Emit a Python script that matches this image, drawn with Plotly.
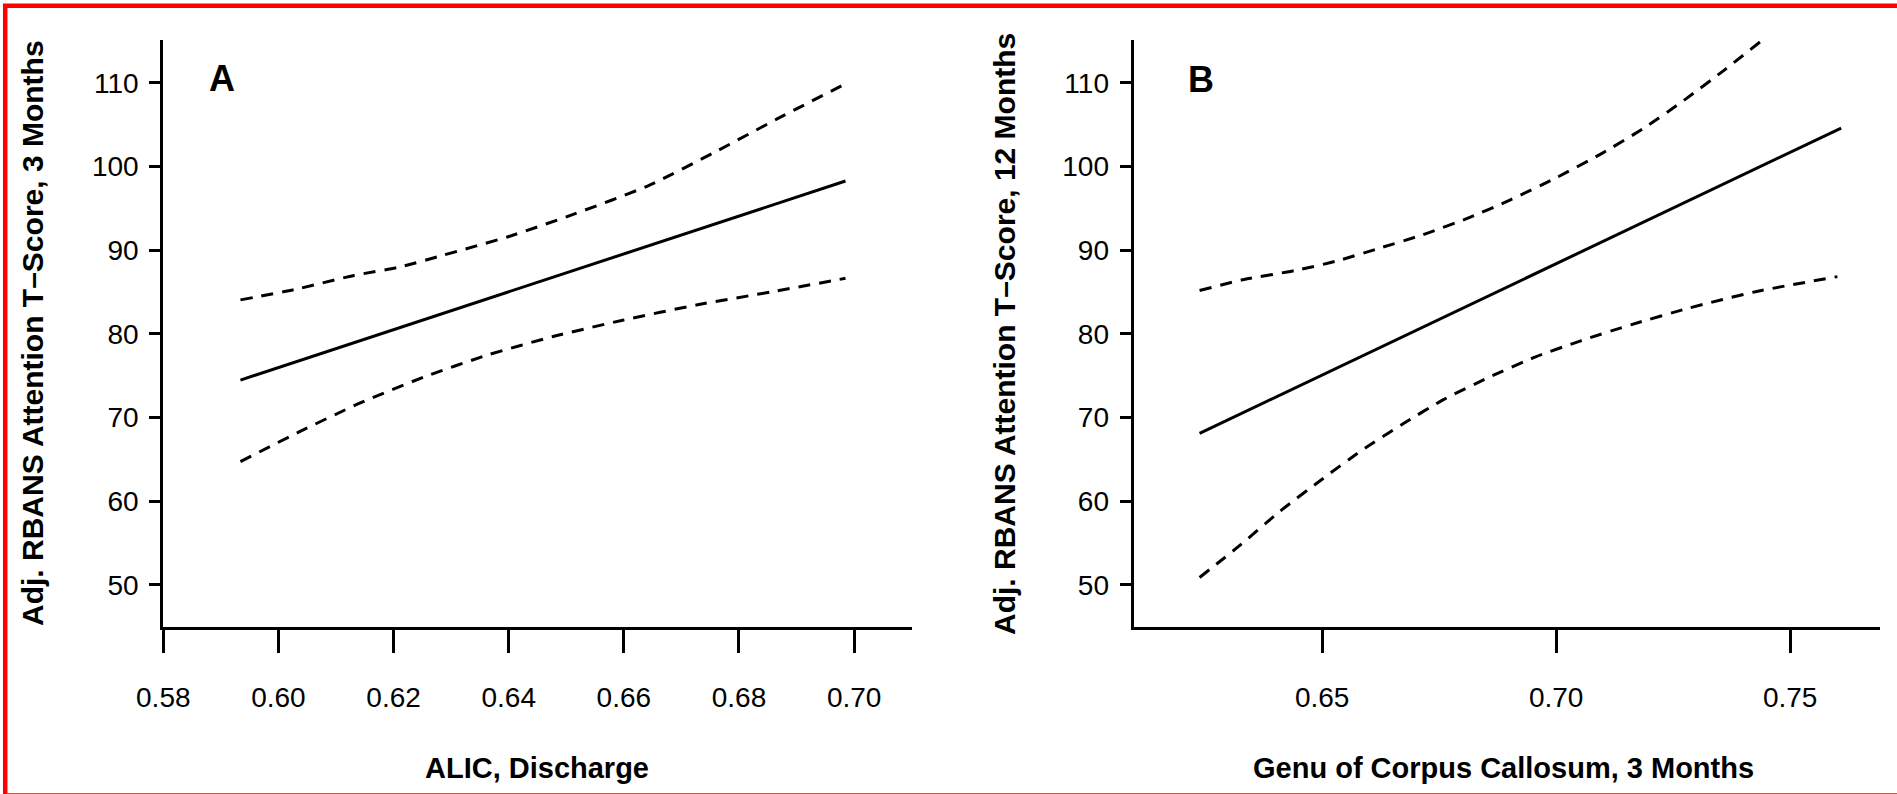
import plotly.graph_objects as go

# ---------------- data ----------------
# Panel A: ALIC, Discharge vs Adj. RBANS Attention T-Score, 3 Months
a_fit_x = [0.5934, 0.6985]
a_fit_y = [74.48, 98.27]
a_upper_x = [0.5934, 0.6027, 0.6131, 0.6209, 0.6287, 0.6399, 0.6512, 0.6642, 0.6754, 0.6867, 0.6984]
a_upper_y = [84.06, 85.28, 86.98, 87.96, 89.42, 91.61, 94.28, 97.69, 101.58, 105.72, 109.85]
a_lower_x = [0.5934, 0.6035, 0.6139, 0.6252, 0.6364, 0.6477, 0.6598, 0.6728, 0.6858, 0.6985]
a_lower_y = [64.74, 68.25, 71.65, 74.82, 77.49, 79.68, 81.63, 83.48, 85.04, 86.64]

# Panel B: Genu of Corpus Callosum, 3 Months vs Adj. RBANS Attention T-Score, 12 Months
b_fit_x = [0.6238, 0.7609]
b_fit_y = [68.10, 104.60]
b_upper_x = [0.6238, 0.6333, 0.6442, 0.6530, 0.6617, 0.6715, 0.6814, 0.6901, 0.7000, 0.7098, 0.7185, 0.7273, 0.7360, 0.7437]
b_upper_y = [85.18, 86.50, 87.57, 88.69, 90.15, 91.85, 93.89, 95.99, 98.66, 101.58, 104.50, 107.91, 111.56, 114.96]
b_lower_x = [0.6238, 0.6322, 0.6409, 0.6497, 0.6584, 0.6672, 0.6759, 0.6857, 0.6956, 0.7054, 0.7163, 0.7284, 0.7426, 0.7601]
b_lower_y = [50.88, 54.62, 58.76, 62.51, 66.06, 69.22, 72.14, 74.82, 77.25, 79.20, 81.14, 83.09, 85.04, 86.84]

y_ticks = [50, 60, 70, 80, 90, 100, 110]
a_x_ticks = [0.58, 0.60, 0.62, 0.64, 0.66, 0.68, 0.70]
b_x_ticks = [0.65, 0.70, 0.75]

a_xlabel = "ALIC, Discharge"
b_xlabel = "Genu of Corpus Callosum, 3 Months"
a_ylabel = "Adj. RBANS Attention T–Score, 3 Months"
b_ylabel = "Adj. RBANS Attention T–Score, 12 Months"
panel_labels = ["A", "B"]

# ---------------- layout helpers ----------------
W, H = 1897, 794
def px(x):
    return x / W
def py(y):
    return 1 - y / H

FONT = "Liberation Sans, Arial, Helvetica, sans-serif"
BLACK = "#000000"
LW = 3

fig = go.Figure()

def add_panel(fig, xs, ys, xaxis, yaxis):
    fx, fy, ux, uy, lx, ly = xs[0], ys[0], xs[1], ys[1], xs[2], ys[2]
    fig.add_trace(go.Scatter(x=fx, y=fy, mode="lines", xaxis=xaxis, yaxis=yaxis,
                             line=dict(color=BLACK, width=LW), showlegend=False, hoverinfo="skip"))
    for X, Y in ((ux, uy), (lx, ly)):
        fig.add_trace(go.Scatter(x=X, y=Y, mode="lines", xaxis=xaxis, yaxis=yaxis,
                                 line=dict(color=BLACK, width=LW, dash="12px,9px", shape="spline", smoothing=0.6),
                                 showlegend=False, hoverinfo="skip"))

add_panel(fig, [a_fit_x, a_upper_x, a_lower_x], [a_fit_y, a_upper_y, a_lower_y], "x", "y")
add_panel(fig, [b_fit_x, b_upper_x, b_lower_x], [b_fit_y, b_upper_y, b_lower_y], "x2", "y2")

y_dom = [py(626.7), py(40.2)]

common_x = dict(showline=True, linecolor=BLACK, linewidth=LW, ticks="outside", ticklen=23,
                tickwidth=LW, tickcolor=BLACK, showgrid=False, zeroline=False,
                tickfont=dict(family=FONT, size=28, color=BLACK), tickformat=".2f",
                ticklabelstandoff=21, automargin=False, fixedrange=True)
common_y = dict(showline=True, linecolor=BLACK, linewidth=LW, ticks="outside", ticklen=11,
                tickwidth=LW, tickcolor=BLACK, showgrid=False, zeroline=False,
                tickfont=dict(family=FONT, size=28, color=BLACK), range=[45, 115.1],
                tickvals=y_ticks, ticklabelstandoff=5, automargin=False, fixedrange=True)

fig.update_layout(
    width=W, height=H, autosize=False,
    margin=dict(l=0, r=0, t=0, b=0, pad=0),
    paper_bgcolor="white", plot_bgcolor="white",
    xaxis=dict(common_x, domain=[px(163.3), px(911.7)], range=[0.58, 0.71],
               tickvals=a_x_ticks, anchor="y"),
    yaxis=dict(common_y, domain=y_dom, anchor="x"),
    xaxis2=dict(common_x, domain=[px(1133.6), px(1880)], range=[0.6097, 0.7692],
                tickvals=b_x_ticks, anchor="y2"),
    yaxis2=dict(common_y, domain=y_dom, anchor="x2"),
)

ann = []
# axis titles
ann.append(dict(text=a_xlabel, x=px(536.5), y=py(767.5), xref="paper", yref="paper",
                xanchor="center", yanchor="middle", showarrow=False,
                font=dict(family=FONT, size=29, color=BLACK, weight="bold")))
ann.append(dict(text=b_xlabel, x=px(1503), y=py(767.5), xref="paper", yref="paper",
                xanchor="center", yanchor="middle", showarrow=False,
                font=dict(family=FONT, size=29, color=BLACK, weight="bold")))
ann.append(dict(text=a_ylabel, x=px(32.5), y=py(333.5), xref="paper", yref="paper",
                xanchor="center", yanchor="middle", showarrow=False, textangle=-90,
                font=dict(family=FONT, size=30, color=BLACK, weight="bold")))
ann.append(dict(text=b_ylabel, x=px(1004), y=py(334), xref="paper", yref="paper",
                xanchor="center", yanchor="middle", showarrow=False, textangle=-90,
                font=dict(family=FONT, size=30, color=BLACK, weight="bold")))
# panel letters
ann.append(dict(text=panel_labels[0], x=px(221.7), y=py(78.5), xref="paper", yref="paper",
                xanchor="center", yanchor="middle", showarrow=False,
                font=dict(family=FONT, size=36, color=BLACK, weight="bold")))
ann.append(dict(text=panel_labels[1], x=px(1201), y=py(79.5), xref="paper", yref="paper",
                xanchor="center", yanchor="middle", showarrow=False,
                font=dict(family=FONT, size=36, color=BLACK, weight="bold")))
fig.update_layout(annotations=ann)

# red frame around the figure
fig.add_shape(type="rect", xref="paper", yref="paper",
              x0=px(5.2), y0=py(795.5), x1=px(1905), y1=py(5.8),
              line=dict(color="#ff0000", width=4.5), fillcolor="rgba(0,0,0,0)", layer="above")

fig.write_html("out.html")
